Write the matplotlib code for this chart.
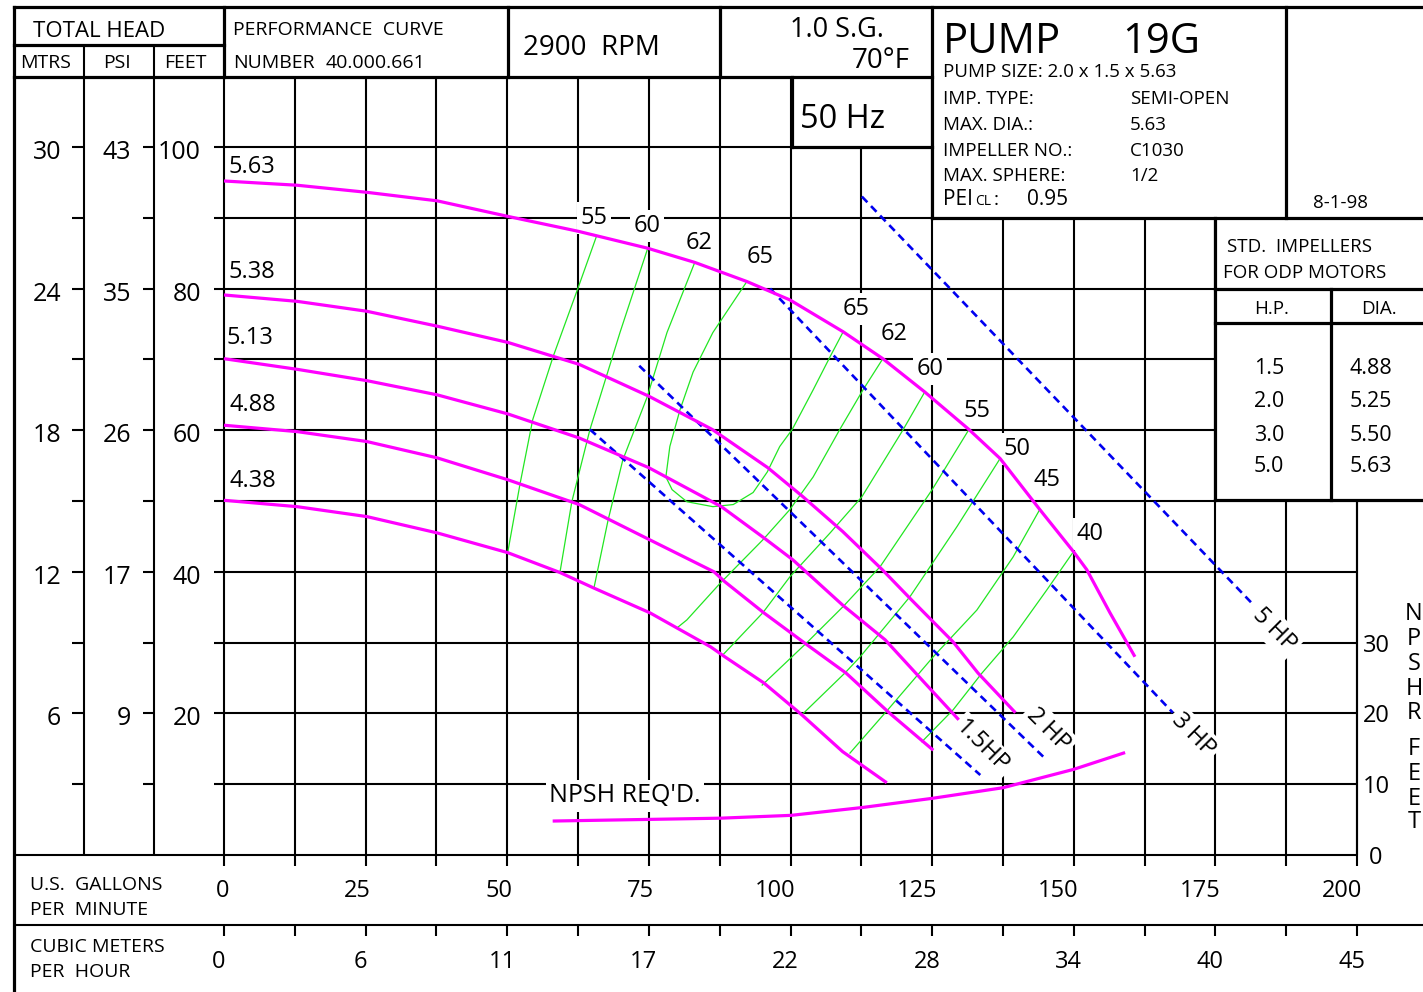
import numpy as np
import matplotlib
matplotlib.use("Agg")
import matplotlib.pyplot as plt
from matplotlib.transforms import blended_transform_factory

plt.rcParams["font.family"] = ["Open Sans", "DejaVu Sans"]

# ---------- values (US gpm, feet of head) ----------
# head-capacity curves, one per impeller diameter
q_563 = [0, 12.9, 25.2, 37.6, 50.1, 62.5, 74.8, 83.1, 92.3, 99.9, 109.3, 116.3,
         123.7, 131.5, 137.0, 144.0, 150.0, 152.3, 156.4, 160.8]
h_563 = [95.2, 94.6, 93.6, 92.4, 90.2, 88.1, 85.7, 83.7, 81.0, 78.4, 73.9, 70.1,
         65.4, 60.1, 56.0, 48.8, 42.8, 40.3, 34.2, 28.0]
q_538 = [0, 12.9, 25.2, 37.6, 50.1, 62.7, 75.0, 86.2, 96.0, 102.2, 109.2, 116.2,
         121.4, 128.7, 133.1, 139.7]
h_538 = [79.1, 78.2, 76.8, 74.7, 72.4, 69.3, 64.8, 60.1, 54.7, 50.6, 45.7, 40.3,
         36.0, 30.1, 25.7, 20.1]
q_513 = [0, 12.9, 25.2, 37.6, 50.1, 62.7, 75.0, 87.8, 95.3, 100.4, 109.2, 116.7,
         123.7, 129.7]
h_513 = [70.1, 68.6, 67.0, 65.0, 62.3, 58.9, 54.7, 49.2, 44.8, 41.7, 35.3, 30.4,
         24.3, 19.1]
q_488 = [0, 12.9, 25.2, 37.6, 50.1, 62.7, 75.2, 86.5, 88.4, 95.3, 102.9, 109.8,
         117.4, 125.2]
h_488 = [60.7, 59.8, 58.4, 56.1, 53.0, 49.5, 44.5, 40.0, 38.6, 34.2, 29.7, 25.7,
         20.1, 14.8]
q_438 = [0, 12.9, 25.2, 37.6, 50.1, 59.3, 65.3, 75.2, 85.9, 88.4, 95.3, 102.0,
         109.2, 117.0]
h_438 = [50.1, 49.2, 47.8, 45.5, 42.7, 39.9, 37.7, 34.2, 29.4, 28.0, 24.3, 19.8,
         14.6, 10.2]
dia_names = ["5.63", "5.38", "5.13", "4.88", "4.38"]

# iso-efficiency lines (%)
e55a_q = [65.8, 62.5, 58.1, 54.5, 52.3, 50.1]
e55a_h = [87.5, 80.1, 70.4, 61.5, 52.6, 42.8]
e60a_q = [74.8, 69.9, 64.6, 61.4, 59.3]
e60a_h = [85.7, 73.8, 60.1, 49.9, 39.9]
e62a_q = [83.1, 78.2, 74.7, 70.4, 67.8, 65.3]
e62a_h = [83.7, 73.8, 64.7, 55.8, 47.3, 37.7]
e65_q = [92.3, 86.3, 82.8, 80.5, 78.7, 78.0, 79.1, 81.7, 86.3, 89.9, 93.4, 95.9,
         98.1, 100.3, 104.0, 107.0, 109.3]
e65_h = [81.0, 73.8, 68.2, 62.9, 57.7, 53.4, 51.6, 49.9, 49.2, 49.5, 51.2, 54.1,
         57.7, 60.1, 65.7, 70.4, 73.9]
e62b_q = [116.3, 112.8, 108.7, 104.0, 99.9, 95.1, 87.6, 81.7, 80.0]
e62b_h = [70.1, 65.7, 60.1, 53.4, 48.8, 44.5, 38.4, 33.2, 32.1]
e60b_q = [123.7, 119.9, 112.6, 107.0, 99.9, 95.1, 88.1]
e60b_h = [65.4, 60.1, 50.6, 45.5, 39.3, 34.2, 28.3]
e55b_q = [131.5, 125.0, 115.8, 109.3, 102.9, 95.0]
e55b_h = [60.1, 51.6, 40.7, 35.1, 30.0, 24.0]
e50_q = [137.0, 129.4, 121.1, 112.3, 109.6, 102.0]
e50_h = [56.0, 46.4, 36.5, 28.0, 25.7, 19.8]
e45_q = [144.0, 139.3, 132.9, 125.2, 117.6, 110.5]
e45_h = [48.8, 42.1, 34.6, 28.0, 20.9, 14.4]
e40_q = [149.9, 145.3, 139.3, 133.8, 128.7, 123.2]
e40_h = [42.8, 37.5, 30.8, 25.7, 20.5, 16.0]

# motor horsepower limit lines
hp5_q, hp5_h = [112.6, 181.4], [93.0, 35.6]
hp3_q, hp3_h = [96.4, 167.5], [80.0, 20.1]
hp2_q, hp2_h = [73.3, 144.6], [69.1, 13.9]
hp15_q, hp15_h = [64.6, 133.5], [60.1, 11.3]

# NPSH required (feet)
npsh_q = [58.3, 87.6, 100.1, 112.6, 125.0, 137.5, 150.0, 158.8]
npsh_ft = [4.8, 5.2, 5.6, 6.7, 8.0, 9.5, 12.1, 14.4]

# axis labels
gpm_ticks = [0, 25, 50, 75, 100, 125, 150, 175, 200]
m3h_labels = ["0", "6", "11", "17", "22", "28", "34", "40", "45"]
feet_ticks = [100, 80, 60, 40, 20]
mtrs_labels = ["30", "24", "18", "12", "6"]
psi_labels = ["43", "35", "26", "17", "9"]
npsh_ticks = [0, 10, 20, 30]
std_hp = ["1.5", "2.0", "3.0", "5.0"]
std_dia = ["4.88", "5.25", "5.50", "5.63"]

# ---------- figure: pixel layer (bg) + data layer (ax) on the same canvas ----------
W, H = 1423, 992
X0, Y0 = 224, 855                  # pixel position of 0 gpm / 0 ft
PX_GPM, PX_FT = 1133 / 200, 708 / 100

fig = plt.figure(figsize=(W / 100, H / 100), dpi=100)
bg = fig.add_axes([0, 0, 1, 1])
bg.set_xlim(0, W); bg.set_ylim(H, 0); bg.axis("off")
ax = fig.add_axes([0, 0, 1, 1])
ax.set_xlim(-X0 / PX_GPM, (W - X0) / PX_GPM)
ax.set_ylim(-(H - Y0) / PX_FT, Y0 / PX_FT)
ax.axis("off")
qpx = blended_transform_factory(ax.transData, bg.transData)   # x gpm, y pixels
pxh = blended_transform_factory(bg.transData, ax.transData)   # x pixels, y feet

GRID = dict(color="black", lw=1.5, zorder=1, solid_capstyle="butt")
THICK = dict(color="black", lw=2.3, zorder=1.5, solid_capstyle="projecting")

# grid
for q in np.arange(0, 200.1, 12.5):
    top = 110 if q <= 100 or q == 125 else 100 if q < 120 else 90 if q < 180 else 50
    ax.plot([q, q], [0, top], **GRID)
    ax.plot([q, q], [855, 866], transform=qpx, **GRID)
    ax.plot([q, q], [925, 936], transform=qpx, **GRID)
for h in range(0, 101, 10):
    right = 100 if h == 100 else 125 if h == 90 else 175 if h >= 50 else 200
    left = (14 - X0) / PX_GPM if h == 0 else -10 / PX_GPM
    ax.plot([left, right], [h, h], **GRID)
    if h > 0:
        for x1, x2 in [(72, 84), (143, 154)]:
            ax.plot([x1, x2], [h, h], transform=pxh, **GRID)

# frame, header and table rules (pixels)
thick = [((14, 1423), (7, 7)), ((14, 14), (7, 992)), ((14, 932), (77, 77)),
         ((14, 224), (45, 45)), ((224, 224), (7, 77)), ((508, 508), (7, 77)),
         ((720, 720), (7, 77)), ((932, 932), (7, 218)), ((1286, 1286), (7, 218)),
         ((792, 792), (77, 147)), ((792, 932), (147, 147)), ((932, 1423), (218, 218)),
         ((1215, 1215), (218, 500)), ((1215, 1423), (289, 289)),
         ((1215, 1423), (323, 323)), ((1331, 1331), (289, 500)),
         ((1215, 1423), (500, 500))]
for xs, ys in thick:
    bg.plot(xs, ys, **THICK)
for xs, ys in [((84, 84), (45, 855)), ((154, 154), (45, 855)),
               ((14, 1423), (925, 925)), ((1357, 1357), (500, 855))]:
    bg.plot(xs, ys, **GRID)

# curves
MAG, GRN, BLU = "#ff00ff", "#22e622", "#0000f0"
for q, h in [(e55a_q, e55a_h), (e60a_q, e60a_h), (e62a_q, e62a_h), (e65_q, e65_h),
             (e62b_q, e62b_h), (e60b_q, e60b_h), (e55b_q, e55b_h), (e50_q, e50_h),
             (e45_q, e45_h), (e40_q, e40_h)]:
    ax.plot(q, h, color=GRN, lw=0.9, zorder=2)
for q, h in [(hp5_q, hp5_h), (hp3_q, hp3_h), (hp2_q, hp2_h), (hp15_q, hp15_h)]:
    ax.plot(q, h, color=BLU, lw=1.9, ls=(0, (3.0, 2.0)), zorder=3)
for q, h in [(q_563, h_563), (q_538, h_538), (q_513, h_513), (q_488, h_488),
             (q_438, h_438)]:
    ax.plot(q, h, color=MAG, lw=2.3, zorder=4, solid_capstyle="butt")
ax.plot(npsh_q, npsh_ft, color=MAG, lw=2.3, zorder=4)


def txt(x, y, s, size, ha="left", **kw):
    # text placed in pixel coordinates, on the top axes so white boxes mask the grid
    kw.setdefault("zorder", 6)
    ax.text(x, y, s, size=size, ha=ha, va="baseline", transform=bg.transData, **kw)


WHITE = dict(fc="white", ec="none", pad=2.5)
LBL_Z = 1.8        # above the grid, below the curves

# curve labels
for s, (x, y) in zip(dia_names, [(229, 173), (229, 278), (226, 344), (229, 411), (229, 487)]):
    txt(x, y, s, 17)
for s, x, y in [("55", 594, 224), ("60", 647, 232), ("62", 699, 249), ("65", 760, 263),
                ("65", 856, 315), ("62", 894, 340), ("60", 930, 375), ("55", 977, 417),
                ("50", 1017, 455), ("45", 1047, 486), ("40", 1090, 540)]:
    txt(x, y, s, 17, ha="center", bbox=WHITE, zorder=LBL_Z)
for s, x, y in [("5 HP", 1274, 630), ("3 HP", 1193, 735), ("2 HP", 1048, 730),
                ("1.5HP", 982, 747)]:
    ax.text(x, y, s, size=17, ha="center", va="center", rotation=-45,
            rotation_mode="anchor", zorder=LBL_Z, bbox=WHITE, transform=bg.transData)
txt(549, 802, "NPSH REQ'D.", 18, bbox=WHITE, zorder=LBL_Z)

# head scales
for h, m, p in zip(feet_ticks, mtrs_labels, psi_labels):
    yb = h - 12 / PX_FT
    ax.text(61, yb, m, transform=pxh, ha="right", va="baseline", size=18)
    ax.text(131, yb, p, transform=pxh, ha="right", va="baseline", size=18)
    ax.text(201, yb, str(h), transform=pxh, ha="right", va="baseline", size=18)
for n in npsh_ticks:
    ax.text(1376, n - 9 / PX_FT, str(n), transform=pxh, ha="center", va="baseline", size=17)
for ch, y in zip("NPSHRFEET", [620, 645, 670, 695, 719, 755, 780, 805, 828]):
    txt(1414, y, ch, 17, ha="center")

# flow scales
for q, m in zip(gpm_ticks, m3h_labels):
    ax.text(q + 5 / PX_GPM, 897, str(q), transform=qpx, ha="right", va="baseline", size=17)
    ax.text(q - 5 / PX_GPM, 968, m, transform=qpx, ha="center", va="baseline", size=17)
txt(30, 890, "U.S.  GALLONS", 14)
txt(30, 915, "PER  MINUTE", 14)
txt(30, 952, "CUBIC METERS", 14)
txt(30, 977, "PER  HOUR", 14)

# header
txt(33, 37, "TOTAL HEAD", 16)
txt(20, 68, "MTRS", 14)
txt(103, 68, "PSI", 14)
txt(164, 68, "FEET", 14)
txt(233, 35, "PERFORMANCE  CURVE", 14)
txt(233, 68, "NUMBER", 14)
txt(326, 68, "40.000.661", 14)
txt(523, 55, "2900  RPM", 20)
txt(790, 37, "1.0 S.G.", 19.5)
txt(910, 68, "70°F", 20, ha="right")
txt(800, 128, "50 Hz", 23.5)
txt(943, 53, "PUMP", 30)
txt(1122, 53, "19G", 30)
txt(943, 77, "PUMP SIZE: 2.0 x 1.5 x 5.63", 13.5)
for (k, v), y in zip([("IMP. TYPE:", "SEMI-OPEN"), ("MAX. DIA.:", "5.63"),
                      ("IMPELLER NO.:", "C1030"), ("MAX. SPHERE:", "1/2")],
                     [104, 130, 156, 181]):
    txt(943, y, k, 13.5)
    txt(1130, y, v, 13.5)
txt(943, 205, "PEI", 15)
txt(975, 205, "CL", 10)
txt(994, 205, ":", 14)
txt(1027, 205, "0.95", 15)
txt(1313, 208, "8-1-98", 13.5)
txt(1227, 252, "STD.  IMPELLERS", 13.5)
txt(1223, 278, "FOR ODP MOTORS", 13.5)
txt(1272, 314, "H.P.", 13.5, ha="center")
txt(1379, 314, "DIA.", 13.5, ha="center")
for hp, d, y in zip(std_hp, std_dia, [374, 407, 441, 472]):
    txt(1269, y, hp, 15.5, ha="center")
    txt(1371, y, d, 15.5, ha="center")

fig.savefig("out.png", dpi=100, facecolor="white")
